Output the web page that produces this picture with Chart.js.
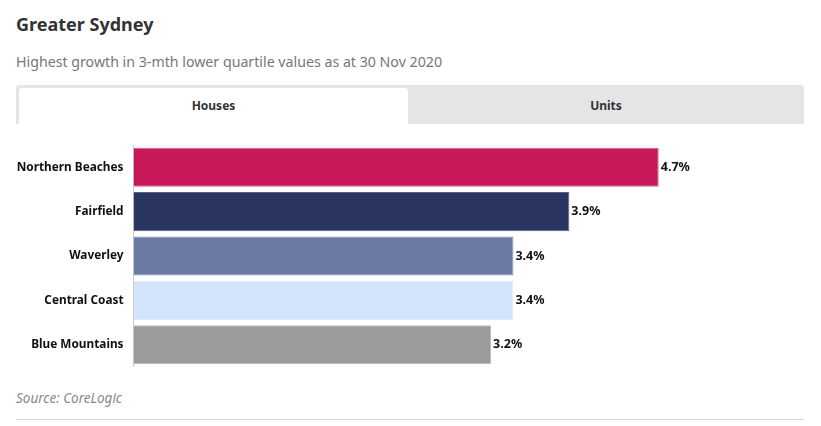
<!DOCTYPE html>
<html>
<head>
<meta charset="utf-8">
<script src="https://cdn.jsdelivr.net/npm/chart.js@4"></script>
<style>
  body { margin: 0; background: #fff; font-family: "Noto Sans", sans-serif; width: 821px; height: 426px; position: relative; overflow: hidden; }
  .title { position: absolute; left: 16px; top: 12px; font-size: 18px; font-weight: bold; color: #333; }
  .sub { position: absolute; left: 16px; top: 52px; font-size: 14.2px; color: #777; }
  .tabs { position: absolute; left: 16px; top: 85px; width: 788px; height: 39px; background: #e5e5e5; border-radius: 3px 3px 0 0; }
  .tab { position: absolute; top: 3px; height: 36px; line-height: 36px; text-align: center; font-size: 12px; font-weight: bold; color: #333; }
  .tab.on { left: 3px; width: 389px; background: #fff; border-radius: 3px 3px 0 0; }
  .tab.off { left: 392px; width: 396px; }
  #my_canvas { position: absolute; left: 0; top: 128px; }
  .src { position: absolute; left: 16px; top: 389px; font-size: 13.5px; font-style: italic; color: #888; }
  .rule { position: absolute; left: 16px; top: 419px; width: 788px; height: 1px; background: #d6d6d6; }
</style>
</head>
<body>
<div class="title">Greater Sydney</div>
<div class="sub">Highest growth in 3-mth lower quartile values as at 30 Nov 2020</div>
<div class="tabs">
  <div class="tab on">Houses</div>
  <div class="tab off">Units</div>
</div>
<canvas id="my_canvas" width="804" height="256"></canvas>
<div class="src">Source: CoreLogic</div>
<div class="rule"></div>
<script>
var regions = ['Northern Beaches', 'Fairfield', 'Waverley', 'Central Coast', 'Blue Mountains'];
var growth = [4.7, 3.9, 3.4, 3.4, 3.2];
var barColours = ['#c7195a', '#2a3561', '#6b79a5', '#d4e4fc', '#9b9b9b'];
var borderColours = ['#d65c86', '#5a6385', '#8591b5', '#e3edfc', '#bbbbbb'];

// writes the value just past the end of each bar
var valueLabels = {
    id: 'valueLabels',
    afterDatasetsDraw: function(chart) {
        var ctx = chart.ctx;
        var meta = chart.getDatasetMeta(0);
        ctx.save();
        ctx.font = 'bold 12.5px "Noto Sans", sans-serif';
        ctx.fillStyle = '#111';
        ctx.textBaseline = 'middle';
        meta.data.forEach(function(bar, i) {
            ctx.fillText(growth[i].toFixed(1) + '%', bar.x + 2, bar.y);
        });
        ctx.restore();
    }
};

var ctx = document.getElementById('my_canvas');
new Chart(ctx, {
    type: 'bar',
    data: {
        labels: regions,
        datasets: [{
            data: growth,
            backgroundColor: barColours,
            borderColor: borderColours,
            borderWidth: 1,
            categoryPercentage: 1,
            barPercentage: 0.88
        }]
    },
    options: {
        indexAxis: 'y',
        responsive: false,
        maintainAspectRatio: false,
        animation: false,
        layout: { padding: { top: 6, bottom: 14 } },
        plugins: { legend: { display: false }, tooltip: { enabled: false } },
        scales: {
            x: { min: 0, max: 6, display: false },
            y: {
                afterFit: function(axis) { axis.width = 133.5; },
                grid: { display: false, drawTicks: false },
                border: { color: '#cccccc' },
                ticks: { color: '#111', padding: 10, font: { family: 'Noto Sans', size: 11.8, weight: 'bold' } }
            }
        }
    },
    plugins: [valueLabels]
});
</script>
</body>
</html>
